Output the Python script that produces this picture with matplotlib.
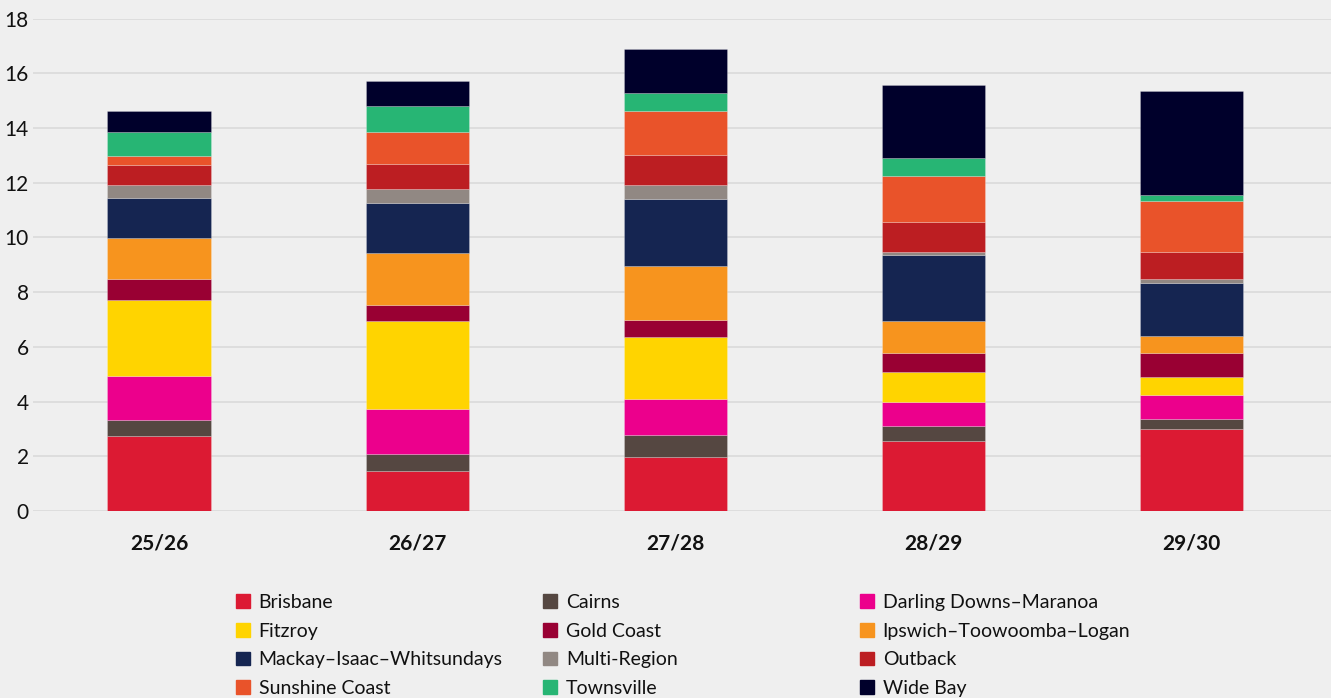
import numpy as np
import matplotlib
matplotlib.use("Agg")
from matplotlib import pyplot as plt
import matplotlib.patches as mpatches

plt.rcParams['font.family'] = ['Lato', 'DejaVu Sans']

years = ['25/26', '26/27', '27/28', '28/29', '29/30']
regions = ['Brisbane', 'Cairns', 'Darling Downs–Maranoa', 'Fitzroy', 'Gold Coast',
           'Ipswich–Toowoomba–Logan', 'Mackay–Isaac–Whitsundays', 'Multi-Region',
           'Outback', 'Sunshine Coast', 'Townsville', 'Wide Bay']
colors = ['#DC1A33', '#554741', '#EC008C', '#FFD400', '#990033', '#F7941E',
          '#152551', '#918883', '#BC1E22', '#E9532A', '#27B574', '#00002B']

brisbane   = [2.73, 1.46, 1.96, 2.55, 2.99]
cairns     = [0.58, 0.64, 0.81, 0.57, 0.36]
darling    = [1.64, 1.64, 1.32, 0.86, 0.88]
fitzroy    = [2.77, 3.21, 2.27, 1.09, 0.66]
gold_coast = [0.77, 0.57, 0.61, 0.71, 0.87]
ipswich    = [1.50, 1.91, 1.97, 1.18, 0.63]
mackay     = [1.45, 1.84, 2.48, 2.39, 1.96]
multi      = [0.46, 0.50, 0.49, 0.12, 0.13]
outback    = [0.74, 0.90, 1.12, 1.11, 0.98]
sunshine   = [0.35, 1.20, 1.58, 1.68, 1.89]
townsville = [0.87, 0.93, 0.68, 0.65, 0.21]
wide_bay   = [0.76, 0.91, 1.60, 2.68, 3.78]

series = [brisbane, cairns, darling, fitzroy, gold_coast, ipswich,
          mackay, multi, outback, sunshine, townsville, wide_bay]

bg = '#EFEFEF'
fig = plt.figure(figsize=(13.31, 6.98), dpi=100, facecolor=bg)
ax = fig.add_axes([33 / 1331, 187 / 698, 1298 / 1331, 492.4 / 698])
ax.set_facecolor(bg)

x = np.arange(len(years))
bottom = np.zeros(len(years))
handles = []
for name, vals, c in zip(regions, series, colors):
    ax.bar(x, vals, width=0.40, bottom=bottom, color=c,
           edgecolor=(1, 1, 1, 0.25), linewidth=0.6, label=name, zorder=3)
    bottom += np.array(vals)
    handles.append(mpatches.Patch(color=c, label=name))

ax.set_xlim(-0.488, 4.539)
ax.set_ylim(0, 18)
ax.set_yticks(np.arange(0, 19, 2))
ax.set_xticks(x)
ax.set_xticklabels(years, fontsize=15, fontweight='bold', color='#111111')
ax.tick_params(axis='x', length=0, pad=16)
ax.tick_params(axis='y', length=0, pad=3, labelsize=15, labelcolor='#111111')
ax.grid(axis='y', color='#DADADA', linewidth=1.2, zorder=0)
for s in ax.spines.values():
    s.set_visible(False)

# three legend columns placed like the reference
col_x = [236, 543, 860]
for i in range(3):
    hs = handles[i::3]
    fig.legend(handles=hs, loc='upper left',
               bbox_to_anchor=(col_x[i] / 1331, 1 - 594 / 698),
               frameon=False, fontsize=14, borderpad=0, borderaxespad=0,
               handlelength=0.72, handleheight=0.72, handletextpad=0.45,
               labelspacing=0.6, labelcolor='#111111')

fig.savefig('out.png', dpi=100, facecolor=bg)
